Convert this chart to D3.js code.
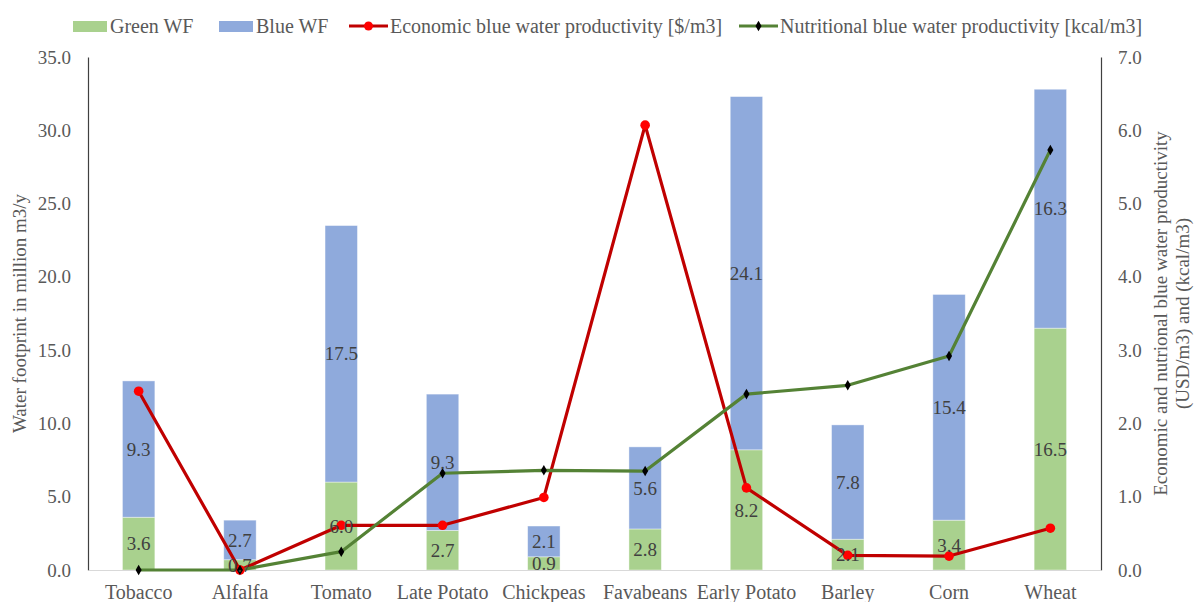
<!DOCTYPE html>
<html>
<head>
<meta charset="utf-8">
<script src="https://cdn.jsdelivr.net/npm/d3@7"></script>
<style>
  html, body { margin: 0; padding: 0; background: #fff; }
  svg { display: block; font-family: "Liberation Serif", "Times New Roman", serif; }
</style>
</head>
<body>
<svg id="chart" width="1198" height="602"></svg>
<script>
// Crops and their water footprint components (million m3/y)
const crops = ["Tobacco", "Alfalfa", "Tomato", "Late Potato", "Chickpeas", "Favabeans", "Early Potato", "Barley", "Corn", "Wheat"];
const greenWF = [3.6, 0.7, 6.0, 2.7, 0.9, 2.8, 8.2, 2.1, 3.4, 16.5];
const blueWF = [9.3, 2.7, 17.5, 9.3, 2.1, 5.6, 24.1, 7.8, 15.4, 16.3];
// Blue water productivity (right axis)
const economicBWP = [2.44, 0.0, 0.61, 0.61, 0.99, 6.07, 1.12, 0.2, 0.19, 0.57];
const nutritionalBWP = [0.0, 0.0, 0.25, 1.32, 1.36, 1.35, 2.4, 2.52, 2.92, 5.73];
// Axis ticks
const leftTicks = [0, 5, 10, 15, 20, 25, 30, 35];
const rightTicks = [0, 1, 2, 3, 4, 5, 6, 7];

const svg = d3.select("#chart");
const m = { left: 88, right: 1101, top: 57, bottom: 570 };
const textColor = "#595959";
const labelColor = "#404040";
const fsTick = 19, fsCat = 20, fsLabel = 19, fsTitle = 19, fsLegend = 20;

const x = d3.scaleBand().domain(crops).range([m.left, m.right]).paddingInner(0.68).paddingOuter(0.34);
const yL = d3.scaleLinear().domain([0, 35]).range([m.bottom, m.top]);
const yR = d3.scaleLinear().domain([0, 7]).range([m.bottom, m.top]);

const colGreen = "#A9D18E", colBlue = "#8FAADC";
const colRed = "#C00000", colRedMark = "#FF0000";
const colNut = "#548235";

// Stacked bars
const stacks = crops.map((c, i) => ({ c, g: greenWF[i], b: blueWF[i] }));
const bars = svg.append("g");
bars.selectAll("rect.g").data(stacks).join("rect")
  .attr("x", d => x(d.c)).attr("width", x.bandwidth())
  .attr("y", d => yL(d.g)).attr("height", d => yL(0) - yL(d.g))
  .attr("fill", colGreen).attr("stroke", "#fff").attr("stroke-opacity", 0.5).attr("stroke-width", 0.8);
bars.selectAll("rect.b").data(stacks).join("rect")
  .attr("x", d => x(d.c)).attr("width", x.bandwidth())
  .attr("y", d => yL(d.g + d.b)).attr("height", d => yL(d.g) - yL(d.g + d.b))
  .attr("fill", colBlue).attr("stroke", "#fff").attr("stroke-opacity", 0.5).attr("stroke-width", 0.8);

// Axes
const axL = svg.append("g").attr("transform", `translate(${m.left},0)`)
  .call(d3.axisLeft(yL).tickValues(leftTicks).tickSize(0).tickPadding(17).tickFormat(d3.format(".1f")));
const axR = svg.append("g").attr("transform", `translate(${m.right},0)`)
  .call(d3.axisRight(yR).tickValues(rightTicks).tickSize(0).tickPadding(17).tickFormat(d3.format(".1f")));
const axB = svg.append("g").attr("transform", `translate(0,${m.bottom})`)
  .call(d3.axisBottom(x).tickSize(0).tickPadding(13));
[axL, axR].forEach(a => {
  a.selectAll("text").attr("fill", textColor).attr("font-size", fsTick).attr("font-family", "Liberation Serif, serif");
});
axB.selectAll("text").attr("fill", textColor).attr("font-size", fsCat).attr("font-family", "Liberation Serif, serif")
  .attr("dy", "0.8em");
axL.select(".domain").attr("stroke", "#404040").attr("stroke-width", 1.2);
axR.select(".domain").attr("stroke", "#404040").attr("stroke-width", 1.2);
axB.select(".domain").attr("stroke", "#D9D9D9").attr("stroke-width", 1.2);

// Lines
const cx = c => x(c) + x.bandwidth() / 2;
const lineR = d3.line().x((d, i) => cx(crops[i])).y(d => yR(d));
svg.append("path").datum(economicBWP).attr("d", lineR)
  .attr("fill", "none").attr("stroke", colRed).attr("stroke-width", 3.2).attr("stroke-linejoin", "round");
svg.append("path").datum(nutritionalBWP).attr("d", lineR)
  .attr("fill", "none").attr("stroke", colNut).attr("stroke-width", 3.2).attr("stroke-linejoin", "round");

svg.append("g").selectAll("circle").data(economicBWP).join("circle")
  .attr("cx", (d, i) => cx(crops[i])).attr("cy", d => yR(d)).attr("r", 4.8).attr("fill", colRedMark);
const diamond = d3.symbol().type(d3.symbolDiamond).size(32);
svg.append("g").selectAll("path").data(nutritionalBWP).join("path")
  .attr("d", diamond)
  .attr("transform", (d, i) => `translate(${cx(crops[i])},${yR(d)})`)
  .attr("fill", "#000");

// Value labels centred in each segment
const labels = svg.append("g").attr("font-size", fsLabel).attr("fill", labelColor).attr("text-anchor", "middle");
labels.selectAll("text.g").data(stacks).join("text")
  .attr("x", d => cx(d.c)).attr("y", d => yL(d.g / 2)).attr("dy", "0.35em")
  .text(d => d3.format(".1f")(d.g));
labels.selectAll("text.b").data(stacks).join("text")
  .attr("x", d => cx(d.c)).attr("y", d => yL(d.g + d.b / 2)).attr("dy", "0.35em")
  .text(d => d3.format(".1f")(d.b));

// Axis titles
svg.append("text").attr("transform", `translate(26,${(m.top + m.bottom) / 2}) rotate(-90)`)
  .attr("text-anchor", "middle").attr("font-size", fsTitle).attr("fill", textColor)
  .text("Water footprint in million m3/y");
const rt = svg.append("text").attr("transform", `translate(1167,${(m.top + m.bottom) / 2}) rotate(-90)`)
  .attr("text-anchor", "middle").attr("font-size", fsTitle).attr("fill", textColor);
rt.append("tspan").attr("x", 0).attr("dy", 0).text("Economic and nutrional blue water productivity");
rt.append("tspan").attr("x", 0).attr("dy", 22).text("(USD/m3) and (kcal/m3)");

// Legend
const legend = svg.append("g").attr("font-size", fsLegend).attr("fill", textColor);
const ly = 26;
const items = [
  { type: "rect", color: colGreen, x: 73, label: "Green WF" },
  { type: "rect", color: colBlue, x: 219, label: "Blue WF" },
  { type: "lineDot", color: colRed, mark: colRedMark, x: 349, label: "Economic blue water productivity [$/m3]" },
  { type: "lineDia", color: colNut, mark: "#000", x: 739, label: "Nutritional blue water productivity [kcal/m3]" }
];
items.forEach(it => {
  if (it.type === "rect") {
    legend.append("rect").attr("x", it.x).attr("y", ly - 5).attr("width", 34).attr("height", 11).attr("fill", it.color);
  } else {
    legend.append("line").attr("x1", it.x).attr("x2", it.x + 39).attr("y1", ly).attr("y2", ly)
      .attr("stroke", it.color).attr("stroke-width", 3.2);
    if (it.type === "lineDot") {
      legend.append("circle").attr("cx", it.x + 19.5).attr("cy", ly).attr("r", 4.5).attr("fill", it.mark);
    } else {
      legend.append("path").attr("d", diamond).attr("transform", `translate(${it.x + 19.5},${ly})`).attr("fill", it.mark);
    }
  }
  legend.append("text").attr("x", it.x + (it.type === "rect" ? 37 : 41)).attr("y", ly).attr("dy", "0.35em").text(it.label);
});
</script>
</body>
</html>
